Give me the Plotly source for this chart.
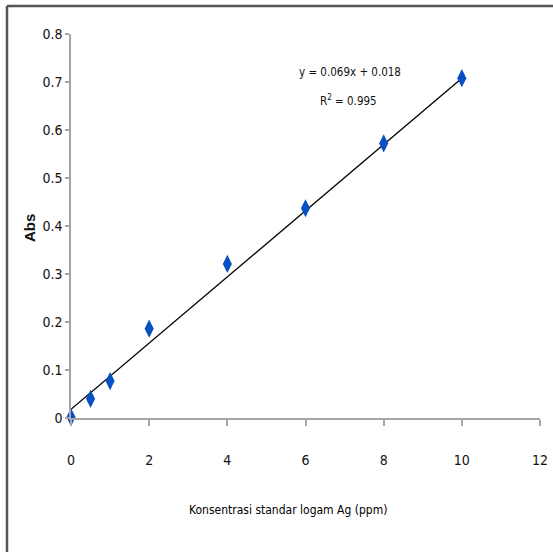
import plotly.graph_objects as go

# Data
konsentrasi = [0, 0.5, 1, 2, 4, 6, 8, 10]
absorbansi = [0.002, 0.040, 0.077, 0.186, 0.321, 0.437, 0.572, 0.708]

slope = 0.069
intercept = 0.018
r_squared = 0.995
trend_x = [0, 10]

x_ticks = [0, 2, 4, 6, 8, 10, 12]
y_ticks = [0, 0.1, 0.2, 0.3, 0.4, 0.5, 0.6, 0.7, 0.8]
y_tick_labels = ["0", "0.1", "0.2", "0.3", "0.4", "0.5", "0.6", "0.7", "0.8"]

FONT = "DejaVu Sans Condensed, Liberation Sans Narrow, sans-serif"
AXIS_GREY = "#A6A6A6"

# plot area in pixels
L, R, T, B = 71, 540, 34, 418
W, H = 553, 552


def px(xp):
    return (xp - L) / (R - L)


def py(yp):
    return (B - yp) / (B - T)


fig = go.Figure()

fig.add_trace(go.Scatter(
    x=trend_x,
    y=[slope * v + intercept for v in trend_x],
    mode="lines",
    line=dict(color="black", width=1.3),
    showlegend=False,
    hoverinfo="skip",
    cliponaxis=False,
))

fig.add_trace(go.Scatter(
    x=konsentrasi,
    y=absorbansi,
    mode="markers",
    marker=dict(symbol="diamond-tall", size=13, color="#0750C4"),
    showlegend=False,
    cliponaxis=False,
))

fig.update_xaxes(
    range=[0, 12],
    tickvals=x_ticks,
    ticks="outside",
    ticklen=6,
    tickcolor=AXIS_GREY,
    tickwidth=1.5,
    showline=True,
    linecolor=AXIS_GREY,
    linewidth=1.5,
    showgrid=False,
    zeroline=False,
    automargin=False,
    ticklabelstandoff=22,
    tickfont=dict(family=FONT, size=14, color="#111"),
)

fig.update_yaxes(
    range=[0, 0.8],
    tickvals=y_ticks,
    ticktext=y_tick_labels,
    ticks="outside",
    ticklen=4,
    tickcolor=AXIS_GREY,
    tickwidth=1.5,
    showline=True,
    linecolor=AXIS_GREY,
    linewidth=1.5,
    showgrid=False,
    zeroline=False,
    automargin=False,
    tickfont=dict(family=FONT, size=14, color="#111"),
)

# axis titles
fig.add_annotation(
    x=px(288), y=py(510), xref="paper", yref="paper",
    xanchor="center", yanchor="middle",
    text="Konsentrasi standar logam Ag (ppm)",
    showarrow=False,
    font=dict(family=FONT, size=12, color="#000"),
)
fig.add_annotation(
    x=px(30), y=py(228), xref="paper", yref="paper",
    xanchor="center", yanchor="middle",
    text="<b>Abs</b>", textangle=-90,
    showarrow=False,
    font=dict(family="Liberation Sans, Arial, sans-serif", size=15, color="#111"),
)

# trendline equation
fig.add_annotation(
    x=px(350), y=py(72), xref="paper", yref="paper",
    xanchor="center", yanchor="middle",
    text=f"y = {slope}x + {intercept}",
    showarrow=False,
    font=dict(family=FONT, size=11.5, color="#111"),
)
fig.add_annotation(
    x=px(348), y=py(101), xref="paper", yref="paper",
    xanchor="center", yanchor="middle",
    text=f"R<sup>2</sup> = {r_squared}",
    showarrow=False,
    font=dict(family=FONT, size=11.5, color="#111"),
)

# outer frame (left and top edges)
fig.add_shape(type="line", xref="paper", yref="paper",
              x0=px(7), x1=px(7), y0=py(6), y1=py(560),
              line=dict(color="#555", width=2.5))
fig.add_shape(type="line", xref="paper", yref="paper",
              x0=px(7), x1=px(560), y0=py(6), y1=py(6),
              line=dict(color="#555", width=2.5))

fig.update_layout(
    width=W, height=H,
    margin=dict(l=L, r=W - R, t=T, b=H - B),
    plot_bgcolor="white",
    paper_bgcolor="white",
)

fig.write_html("out.html", config={"displayModeBar": False},
               post_script="document.body.style.margin='0';")
